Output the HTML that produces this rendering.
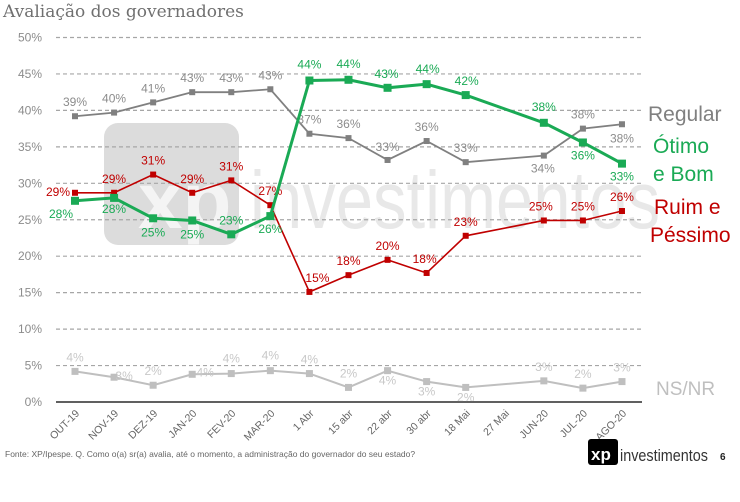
<!DOCTYPE html>
<html><head><meta charset="utf-8"><style>
body{margin:0;background:#fff;width:740px;height:497px;overflow:hidden;font-family:"Liberation Sans",sans-serif}
svg text{font-family:"Liberation Sans",sans-serif}
</style></head><body>
<svg id="chart" width="740" height="497" viewBox="0 0 740 497">
<text x="3" y="17" font-size="17" fill="#707070" style="font-family:'DejaVu Serif',serif">Avaliação dos governadores</text>
<g id="watermark">
<rect x="104" y="123" width="135" height="122" rx="14" fill="#dcdcdc"/>
<text x="138" y="228" font-size="80" font-weight="bold" fill="#f4f4f4">xp</text>
<text x="250" y="228" font-size="82" fill="#e8e8e8" textLength="410" lengthAdjust="spacingAndGlyphs">investimentos</text>
</g>
<g id="grid"></g><g id="yaxis"></g><g id="xaxis"></g><g id="series"></g>
<text x="648" y="121" font-size="21" fill="#808080">Regular</text>
<text x="653" y="153" font-size="21" fill="#1aaa55">Ótimo</text>
<text x="653" y="181" font-size="21" fill="#1aaa55">e Bom</text>
<text x="654" y="214" font-size="21" fill="#c00000">Ruim e</text>
<text x="650" y="242" font-size="21" fill="#c00000">Péssimo</text>
<text x="656" y="395" font-size="19" fill="#bfbfbf">NS/NR</text>
<text x="5" y="457" font-size="8.5" fill="#666">Fonte: XP/Ipespe. Q. Como o(a) sr(a) avalia, até o momento, a administração do governador do seu estado?</text>
<g>
<rect x="588" y="439" width="30" height="26" rx="3" fill="#000"/>
<text x="591" y="460" font-size="17" font-weight="bold" fill="#fff">xp</text>
<text x="620" y="461" font-size="17" fill="#333" textLength="88" lengthAdjust="spacingAndGlyphs">investimentos</text>
</g>
<text x="720" y="460" font-size="10" font-weight="bold" fill="#222">6</text>
</svg>
<script>
const categories=["OUT-19","NOV-19","DEZ-19","JAN-20","FEV-20","MAR-20","1 Abr","15 abr","22 abr","30 abr","18 Mai","27 Mai","JUN-20","JUL-20","AGO-20"];
const regular=[39.2,39.7,41.1,42.5,42.5,42.9,36.8,36.2,33.2,35.8,32.9,null,33.8,37.5,38.1];
const regularLabels=["39%","40%","41%","43%","43%","43%","37%","36%","33%","36%","33%","","34%","38%","38%"];
const otimo=[27.6,28.0,25.2,24.9,23.0,25.5,44.1,44.2,43.1,43.6,42.1,null,38.3,35.6,32.7];
const otimoLabels=["28%","28%","25%","25%","23%","26%","44%","44%","43%","44%","42%","","38%","36%","33%"];
const ruim=[28.7,28.7,31.2,28.7,30.4,27.0,15.1,17.4,19.5,17.7,22.8,null,24.9,24.9,26.2];
const ruimLabels=["29%","29%","31%","29%","31%","27%","15%","18%","20%","18%","23%","","25%","25%","26%"];
const nsnr=[4.2,3.4,2.3,3.8,3.9,4.3,3.9,2.0,4.3,2.8,2.0,null,2.9,1.9,2.8];
const nsnrLabels=["4%","3%","2%","4%","4%","4%","4%","2%","4%","3%","2%","","3%","2%","3%"];
const yTicks=[0,5,10,15,20,25,30,35,40,45,50];
// label placement offsets (styling only)
const regPos=[[0,-10],[0,-10],[0,-10],[0,-10],[0,-10],[0,-10],[0,-10],[0,-10],[0,-9],[0,-10],[0,-10],null,[-1,17],[0,-10],[0,18]];
const otPos=[[-14,17],[0,15],[0,18],[0,18],[0,-10],[0,17],[0,-12],[0,-12],[-1,-10],[1,-11],[1,-10],null,[0,-12],[0,17],[0,17]];
const ruPos=[[-17,3],[0,-10],[0,-10],[0,-10],[0,-10],[0,-10],[8,-10],[0,-10],[0,-10],[-2,-10],[0,-10],null,[-3,-10],[0,-10],[0,-10]];
const nsPos=[[0,-10],[10,3],[0,-10],[13,2],[0,-11],[0,-11],[0,-10],[0,-10],[0,14],[0,14],[0,14],null,[0,-10],[0,-10],[0,-10]];
const NS="http://www.w3.org/2000/svg";
const x0=75,dx=39.07,yBase=402,yScale=7.29;
function xS(i){return x0+i*dx;}
function yS(v){return yBase-v*yScale;}
function mk(tag,attrs,parent){const e=document.createElementNS(NS,tag);for(const k in attrs)e.setAttribute(k,attrs[k]);parent.appendChild(e);return e;}
const grid=document.getElementById('grid'),yax=document.getElementById('yaxis'),xax=document.getElementById('xaxis'),ser=document.getElementById('series');
yTicks.forEach(t=>{
 if(t>0){const l=mk('line',{x1:56,x2:642,y1:yS(t),y2:yS(t),stroke:'#a6a6a6','stroke-width':1.2,'stroke-dasharray':'4 3'},grid);
 
 }
 const tx=mk('text',{x:42,y:yS(t)+4,'font-size':12,fill:'#8c8c8c','text-anchor':'end'},yax);
 tx.textContent=t+'%';
 
 
});
const ax=mk('line',{x1:56,x2:642,y1:yBase,y2:yBase,stroke:'#000','stroke-width':1.3},xax);


categories.forEach((c,i)=>{
 const t=mk('text',{x:0,y:0,'font-size':10.5,fill:'#666','text-anchor':'end',transform:`translate(${xS(i)+5},${yBase+12}) rotate(-45)`},xax);
 t.textContent=c;
 
 
});
function drawSeries(name,vals,labels,pos,color,sw,ms,lcolor){
 const g=mk('g',{},ser);
 
 
 let d='';vals.forEach((v,i)=>{if(v===null)return;d+=(d?'L':'M')+xS(i)+','+yS(v);});
 const p=mk('path',{d:d,fill:'none',stroke:color,'stroke-width':sw},g);
 
 
 vals.forEach((v,i)=>{if(v===null)return;
  const r=mk('rect',{x:xS(i)-ms/2,y:yS(v)-ms/2,width:ms,height:ms,fill:color},g);
  
  
  const o=pos[i];
  const t=mk('text',{x:xS(i)+o[0],y:yS(v)+o[1],'font-size':12,fill:lcolor,'text-anchor':'middle'},g);
  t.textContent=labels[i];
  
  
 });
}
drawSeries('ns-nr',nsnr,nsnrLabels,nsPos,'#bfbfbf',2,7,'#c8c8c8');
drawSeries('regular',regular,regularLabels,regPos,'#808080',1.8,6,'#8c8c8c');
drawSeries('ruim-pessimo',ruim,ruimLabels,ruPos,'#c00000',1.6,6,'#c00000');
drawSeries('otimo-bom',otimo,otimoLabels,otPos,'#1aaa55',3,8,'#1aaa55');
</script>
</body></html>
